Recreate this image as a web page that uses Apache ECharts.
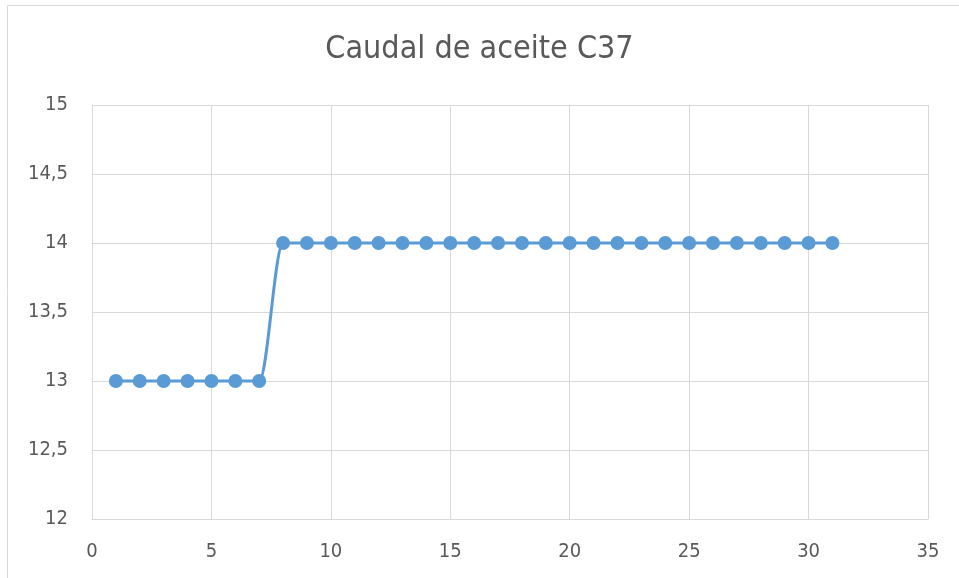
<!DOCTYPE html>
<html>
<head>
<meta charset="utf-8">
<title>Caudal de aceite C37</title>
<script src="https://cdn.jsdelivr.net/npm/echarts@6/dist/echarts.min.js"></script>
<style>
  html, body { margin: 0; padding: 0; background: #fff; }
  #chart { width: 959px; height: 578px; }
</style>
</head>
<body>
<div id="chart"></div>
<script>
// datos
const dias = [1, 2, 3, 4, 5, 6, 7, 8, 9, 10, 11, 12, 13, 14, 15, 16,
  17, 18, 19, 20, 21, 22, 23, 24, 25, 26, 27, 28, 29, 30, 31]
const caudal = [13, 13, 13, 13, 13, 13, 13, 14, 14, 14, 14, 14, 14, 14, 14, 14,
  14, 14, 14, 14, 14, 14, 14, 14, 14, 14, 14, 14, 14, 14, 14]

const fuente = "'Liberation Sans Narrow', 'DejaVu Sans Condensed', 'Liberation Sans', sans-serif"
const gris = '#595959'
const lineaGris = '#d9d9d9'

const chart = echarts.init(document.getElementById('chart'))

chart.setOption({
  animation: false,
  title: {
    text: 'Caudal de aceite C37',
    left: 'center',
    top: 29,
    textStyle: { fontFamily: fuente, fontSize: 32, fontWeight: 'normal', color: gris }
  },
  // borde del área del gráfico
  graphic: [{
    type: 'rect',
    shape: { x: 7.5, y: 5.5, width: 1200, height: 1200 },
    style: { fill: 'none', stroke: lineaGris, lineWidth: 1 },
    silent: true
  }],
  grid: { left: 92, top: 105, width: 836, height: 414, containLabel: false },
  xAxis: {
    type: 'value',
    min: 0,
    max: 35,
    interval: 5,
    axisLine: { show: true, lineStyle: { color: lineaGris, width: 1 } },
    axisTick: { show: false },
    splitLine: { show: true, lineStyle: { color: lineaGris, width: 1 } },
    axisLabel: { fontFamily: fuente, fontSize: 20, color: gris, margin: 23 }
  },
  yAxis: {
    type: 'value',
    min: 12,
    max: 15,
    interval: 0.5,
    axisLine: { show: true, lineStyle: { color: lineaGris, width: 1 } },
    axisTick: { show: false },
    splitLine: { show: true, lineStyle: { color: lineaGris, width: 1 } },
    axisLabel: {
      fontFamily: fuente,
      fontSize: 20,
      color: gris,
      margin: 24,
      formatter: v => String(v).replace('.', ',')
    }
  },
  series: [{
    type: 'line',
    data: dias.map((d, i) => [d, caudal[i]]),
    smooth: 0.2,
    symbol: 'circle',
    symbolSize: 14,
    lineStyle: { color: '#5B9BD5', width: 3 },
    itemStyle: { color: '#5B9BD5' }
  }]
})
</script>
</body>
</html>
